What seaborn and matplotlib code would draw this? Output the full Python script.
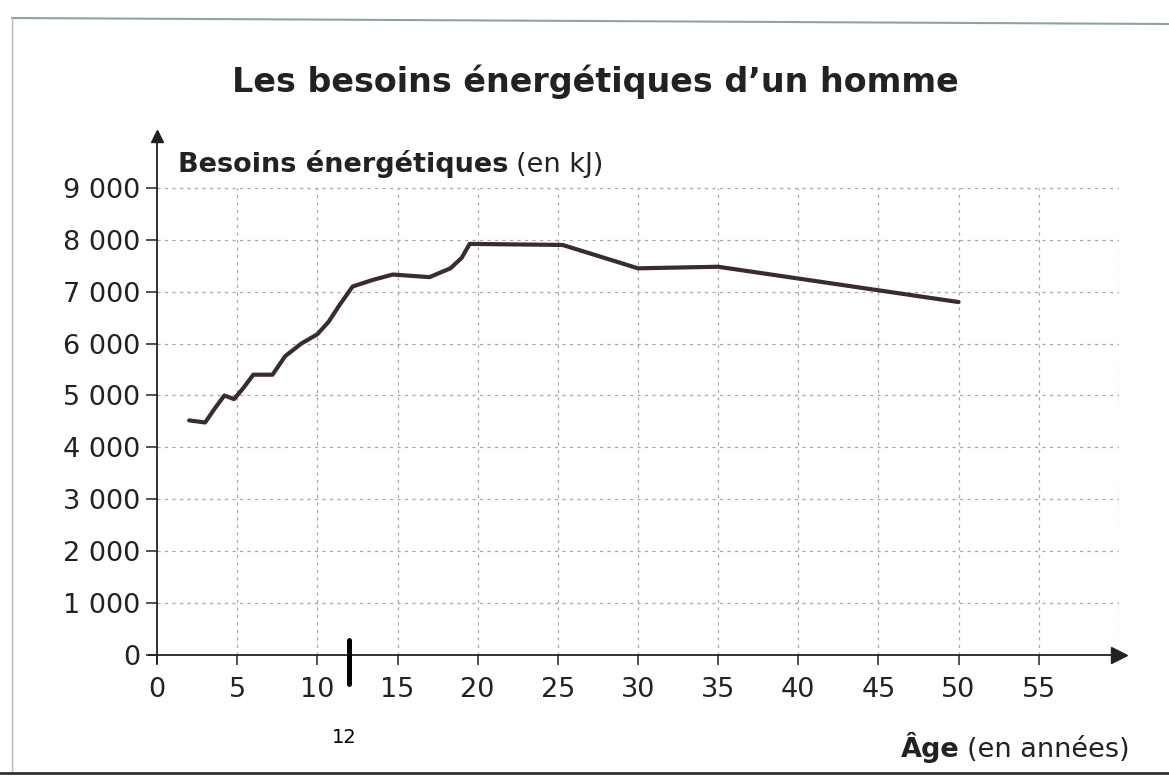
import matplotlib
matplotlib.use("Agg")
import matplotlib.pyplot as plt
from matplotlib.lines import Line2D
import seaborn as sns

# data
ages = [2, 3, 3.6, 4.2, 4.8, 5.4, 6, 7.2, 8, 9, 10, 10.7, 11.4, 12.2, 13.5,
        14.7, 17, 18.3, 19, 19.5, 25.3, 30, 35, 50]
besoins = [4520, 4480, 4750, 5000, 4930, 5150, 5400, 5400, 5760, 6000, 6180,
           6420, 6750, 7100, 7230, 7330, 7280, 7450, 7650, 7920, 7900,
           7450, 7480, 6800]

x_ticks = [0, 5, 10, 15, 20, 25, 30, 35, 40, 45, 50, 55]
y_ticks = [0, 1000, 2000, 3000, 4000, 5000, 6000, 7000, 8000, 9000]
y_labels = ["0", "1 000", "2 000", "3 000", "4 000", "5 000",
            "6 000", "7 000", "8 000", "9 000"]
grid_x = [5, 10, 15, 20, 25, 30, 35, 40, 45, 50, 55, 60]
grid_y = [1000, 2000, 3000, 4000, 5000, 6000, 7000, 8000, 9000]
marker_age = 12

TITLE = "Les besoins énergétiques d’un homme"
LINE_COLOR = "#3b2a33"
GRID_COLOR = "#a8a8a8"

sns.set_theme(style="white")
plt.rcParams["font.family"] = ["DejaVu Sans"]

W, H = 1169, 776
fig = plt.figure(figsize=(W / 100, H / 100), dpi=100)
fig.patch.set_facecolor("white")
ax = fig.add_axes([0.1275, 0.1392, 0.8296, 0.6856])
ax.set_xlim(-0.5, 60)
ax.set_ylim(-250, 10000)

# dashed grid, limited to the drawn area like in the book
ax.vlines(grid_x, 0, 9000, colors=GRID_COLOR, linestyles=(0, (2.5, 3.5)), lw=0.9, zorder=1)
ax.hlines(grid_y, 0, 60, colors=GRID_COLOR, linestyles=(0, (2.5, 3.5)), lw=0.9, zorder=1)

sns.lineplot(x=ages, y=besoins, ax=ax, color=LINE_COLOR, lw=3, zorder=3,
             estimator=None, sort=False)
ax.lines[-1].set_solid_joinstyle("round")
ax.lines[-1].set_solid_capstyle("round")

# axes as arrows through the origin
for side in ["top", "right"]:
    ax.spines[side].set_visible(False)
ax.spines["left"].set_position(("data", 0))
ax.spines["bottom"].set_position(("data", 0))
ax.spines["left"].set_bounds(-150, 9950)
for side in ["left", "bottom"]:
    ax.spines[side].set_color("#222222")
    ax.spines[side].set_linewidth(1.3)
ax.plot(0, 1, "^", color="#222222", ms=9, transform=ax.get_xaxis_transform(), clip_on=False)
ax.plot(1, 0, ">", color="#222222", ms=11, transform=ax.get_yaxis_transform(), clip_on=False)

ax.set_xticks(x_ticks)
ax.set_xticklabels([str(v) for v in x_ticks])
ax.set_yticks(y_ticks)
ax.set_yticklabels(y_labels)
ax.tick_params(axis="x", direction="out", length=7, width=1.1, pad=9,
               labelsize=19.5, colors="#222222", bottom=True)
ax.tick_params(axis="y", direction="out", length=8, width=1.1, pad=4,
               labelsize=19.5, colors="#222222", left=True)

# marker at 12 years
ax.plot([marker_age, marker_age], [290, -560], color="black", lw=3.6, clip_on=False, zorder=4)
ax.text(marker_age - 0.3, -1580, str(marker_age), ha="center", va="center",
        fontsize=14, color="black", clip_on=False)

# title and axis titles (bold part + regular part)
fig.text(595 / W, 1 - 92 / H, TITLE, ha="center", va="baseline",
         fontsize=24, fontweight="bold", color="#222222")

fig.canvas.draw()
renderer = fig.canvas.get_renderer()

t1 = fig.text(178 / W, 1 - 172 / H, "Besoins énergétiques", ha="left", va="baseline",
              fontsize=19.5, fontweight="bold", color="#222222")
bb = t1.get_window_extent(renderer)
fig.text((bb.x1 + 8) / W, 1 - 172 / H, "(en kJ)", ha="left", va="baseline",
         fontsize=19.5, color="#222222")

t2 = fig.text(1130 / W, 1 - 757 / H, "(en années)", ha="right", va="baseline",
              fontsize=19.5, color="#222222")
bb = t2.get_window_extent(renderer)
fig.text((bb.x0 - 8) / W, 1 - 757 / H, "Âge", ha="right", va="baseline",
         fontsize=19.5, fontweight="bold", color="#222222")

# page frame of the scan
fig.add_artist(Line2D([12 / W, 1], [1 - 18 / H, 1 - 24 / H], color="#8fa39a", lw=1.5))
fig.add_artist(Line2D([12 / W, 12 / W], [1 - 18 / H, 1 - 772 / H], color="#b5bdb8", lw=1))
fig.add_artist(Line2D([0, 1], [1 - 773 / H, 1 - 773 / H], color="#333333", lw=2))

fig.savefig("out.png", dpi=100)
